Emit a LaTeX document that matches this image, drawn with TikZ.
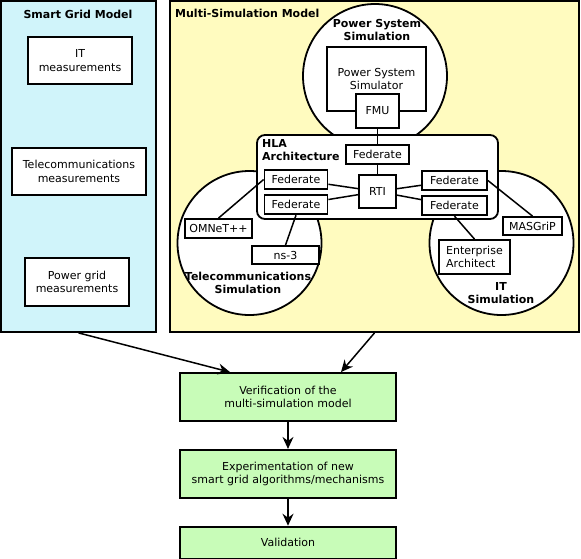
\documentclass[tikz,border=0pt]{standalone}
\usepackage{fontspec}
\setmainfont{DejaVu Sans}
\usetikzlibrary{%
  positioning, arrows.meta, shapes.geometric, calc
}
\usepackage{xcolor}
\definecolor{gridblue}{HTML}{D0F4FA}
\definecolor{simyellow}{HTML}{FFFBBF}
\definecolor{stepgreen}{HTML}{C8FCB8}
\tikzstyle{mbox} = [%
  rectangle,
  draw=black,
  line width=1.8pt,
  fill=white,
  align=center,
  text centered,
  inner sep=1pt
]
\tikzstyle{simcircle} = [%
  circle,
  draw=black,
  line width=1.8pt,
  fill=white,
  minimum size=144pt,
  inner sep=0pt
]

\begin{document}
\begin{tikzpicture}[%
  x=1pt, y=-1pt,
  every node/.style={%
    font=\fontsize{11}{13.5}\selectfont
  },
  panel/.style={draw=black,line width=1.8pt,inner sep=0pt},
  heading/.style={font=\fontsize{11}{13}\selectfont\bfseries,align=center,inner sep=0pt},
  fed/.style={mbox,minimum width=63pt,minimum height=19pt},
  stepbox/.style={mbox,fill=stepgreen,minimum width=216pt},
  link/.style={line width=1.5pt},
  flow/.style={line width=1.5pt,-{Stealth[length=12pt,width=11pt,inset=4pt]}}
]
  \useasboundingbox (0,0) rectangle (581,558);

  % Panels
  \node[panel,fill=gridblue,minimum width=155pt,minimum height=331pt] (sgm) at (78.5,166.5) {};
  \node[panel,fill=simyellow,minimum width=409pt,minimum height=331pt] (msm) at (374.5,166.5) {};
  \node[heading] (sgmtitle) at (78,14) {Smart Grid Model};
  \node[heading,anchor=west] (msmtitle) at (175,13) {Multi-Simulation Model};

  % Measurements
  \node[mbox,minimum width=104pt,minimum height=47pt] (itm) at (80,60.5) {IT\\measurements};
  \node[mbox,minimum width=134pt,minimum height=47pt] (telm) at (79,171.5) {Telecommunications\\measurements};
  \node[mbox,minimum width=104pt,minimum height=48pt] (pwm) at (77,282) {Power grid\\measurements};

  % Simulations
  \node[simcircle] (pss) at (375,76) {};
  \node[simcircle] (tels) at (249.5,243) {};
  \node[simcircle] (its) at (501.5,243) {};
  \node[heading] (psstitle) at (377,30) {Power System\\Simulation};
  \node[mbox,minimum width=99pt,minimum height=64pt] (psim) at (376.5,79) {Power System\\Simulator};
  \node[mbox,minimum width=43pt,minimum height=34pt] (fmu) at (377.5,111) {FMU};

  % HLA
  \node[mbox,rounded corners=8pt,minimum width=241pt,minimum height=84pt] (hla) at (377.5,177) {};
  \node[heading,align=left,anchor=north west] (hlatitle) at (262,139.5) {HLA\\Architecture};
  \node[fed] (fedtop) at (377.5,154.5) {Federate};
  \node[mbox,minimum width=37pt,minimum height=33pt] (rti) at (377.5,191.5) {RTI};
  \node[fed] (fedl1) at (296,179.5) {Federate};
  \node[fed,below=4.5pt of fedl1] (fedl2) {Federate};
  \node[fed,minimum width=65pt] (fedr1) at (454.5,180.5) {Federate};
  \node[fed,minimum width=65pt,below=4.5pt of fedr1] (fedr2) {Federate};

  % Simulators
  \node[mbox,minimum width=67pt,minimum height=19pt] (omnet) at (218.5,228.5) {OMNeT++};
  \node[mbox,minimum width=67pt,minimum height=18pt] (ns3) at (285.5,255) {ns-3};
  \node[mbox,minimum width=59pt,minimum height=18pt] (masgrip) at (532.5,226) {MASGriP};
  \node[mbox,align=left,minimum width=71pt,minimum height=34pt] (ea) at (474.5,257) {Enterprise\\Architect};
  \node[heading] (telstitle) at (248,283) {Telecommunications\\Simulation};
  \node[heading] (itstitle) at (501,293) {IT\\Simulation};

  % Process
  \node[stepbox,minimum height=48pt] (ver) at (288,397) {Verification of the\\multi-simulation model};
  \node[stepbox,minimum height=48pt,below=27pt of ver] (exp) {Experimentation of new\\smart grid algorithms/mechanisms};
  \node[stepbox,minimum height=32pt,below=27pt of exp] (val) {Validation};

  % Links
  \draw[link] (fmu) -- (fedtop);
  \draw[link] (fedtop) -- (rti);
  \draw[link] (fedl1) -- (rti);
  \draw[link] (fedl2) -- (rti);
  \draw[link] (rti) -- (fedr1);
  \draw[link] (rti) -- (fedr2);
  \draw[link] (fedl1.west) -- (omnet.north);
  \draw[link] (fedl2.south) -- (ns3.north);
  \draw[link] (fedr1.east) -- (masgrip.north);
  \draw[link] (fedr2.south) -- (ea.north);

  % Flow
  \draw[flow] (sgm.south) -- ([xshift=-58pt]ver.north);
  \draw[flow] (msm.south) -- ([xshift=53pt]ver.north);
  \draw[flow] (ver) -- (exp);
  \draw[flow] (exp) -- (val);

\end{tikzpicture}
\end{document}
